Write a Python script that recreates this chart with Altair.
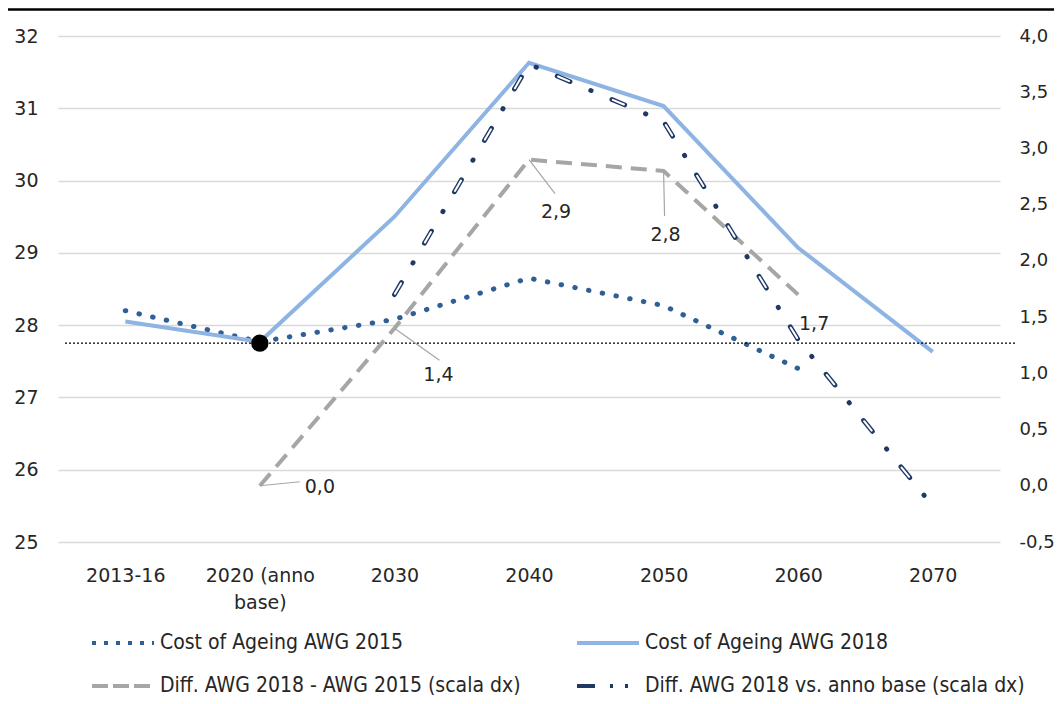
import altair as alt
import pandas as pd

# ---------------- data ----------------
cats = ["2013-16", "2020 (anno base)", "2030", "2040", "2050", "2060", "2070"]
awg2015 = [28.2, 27.77, 28.08, 28.65, 28.27, 27.4, None]
awg2018 = [28.05, 27.77, 29.5, 31.63, 31.03, 29.07, 27.63]
diff_18_15 = [None, 0.0, 1.4, 2.9, 2.8, 1.7, None]
diff_base = [None, None, 1.7, 3.75, 3.24, 1.3, -0.18]
base_level = 27.75
left_ticks = [25, 26, 27, 28, 29, 30, 31, 32]
right_ticks = [-0.5, 0.0, 0.5, 1.0, 1.5, 2.0, 2.5, 3.0, 3.5, 4.0]
series_names = [
    "Cost of Ageing AWG 2015",
    "Cost of Ageing AWG 2018",
    "Diff. AWG 2018 - AWG 2015 (scala dx)",
    "Diff. AWG 2018 vs. anno base (scala dx)",
]

# ---------------- style ----------------
C2015 = "#305F96"
C2018 = "#8EB4E3"
CGRAY = "#A6A6A6"
CNAVY = "#1F3864"
TXT = "#262626"
AXFONT = "DejaVu Sans"
LEGFONT = "Liberation Sans Narrow, Arial Narrow, DejaVu Sans Condensed"
# label offsets (pixels): text dx, dy ; leader end dx, dy (None = no leader)
label_style = {
    "2020 (anno base)": (60, 1, (40, -4)),
    "2030": (44, 47, (45, 32)),
    "2040": (27, 52, (26, 34)),
    "2050": (2, 64, (1, 45)),
    "2060": (16, 29, None),
}

df = pd.DataFrame({
    "cat": cats,
    "awg2015": awg2015,
    "awg2018": awg2018,
    "d1815": diff_18_15,
    "dbase": diff_base,
})

X = alt.X(
    "cat:N",
    scale=alt.Scale(type="point", domain=cats, padding=0.5),
    axis=alt.Axis(
        title=None, labelAngle=0, ticks=False, domain=False, grid=False,
        labelPadding=24, labelFont=AXFONT, labelFontSize=19, labelColor=TXT,
        labelBaseline="top", labelLineHeight=27, labelOverlap=False,
        labelExpr="datum.value == '2020 (anno base)' ? ['2020 (anno', 'base)'] : datum.value",
    ),
)

left_axis = alt.Axis(
    title=None, values=left_ticks, format="d", ticks=False, domain=False,
    labelPadding=20, grid=True, gridColor="#D9D9D9", gridWidth=1.3,
    labelFont=AXFONT, labelFontSize=19, labelColor=TXT,
)
right_axis = alt.Axis(
    title=None, orient="right", values=right_ticks, ticks=False, domain=False,
    labelPadding=19, grid=False, labelFont=AXFONT, labelFontSize=18, labelColor=TXT,
    labelExpr="replace(replace(format(datum.value, '.1f'), '.', ','), '\u2212', '-')",
)


def yl(field):
    return alt.Y(f"{field}:Q", scale=alt.Scale(domain=[25, 32], zero=False, nice=False), axis=left_axis)


def yr(field):
    return alt.Y(f"{field}:Q", scale=alt.Scale(domain=[-0.5, 4.0], zero=False, nice=False), axis=right_axis)


leg = alt.Legend(
    title=None, orient="none", legendX=32, legendY=574, columns=2, direction="horizontal",
    symbolType="stroke", symbolSize=3844, symbolStrokeWidth=4,
    labelFont=LEGFONT, labelFontSize=21, labelColor=TXT, labelOffset=4,
    columnPadding=48, rowPadding=0, padding=0, labelLimit=800,
)
legend_dashes = [[4, 8], [1, 0], [16, 5], [18, 15, 3, 12, 3, 60]]

# ---------------- left group ----------------
l2015 = alt.Chart(df).mark_line(color=C2015, strokeWidth=5, strokeDash=[0.5, 13.5], strokeCap="round").encode(
    x=X, y=yl("awg2015"))
l2018 = alt.Chart(df).mark_line(color=C2018, strokeWidth=4).encode(x=X, y=yl("awg2018"))

legend_df = pd.DataFrame({"serie": series_names, "cat": [cats[0]] * 4, "v": [None] * 4})
legend_layer = alt.Chart(legend_df).mark_line().encode(
    x=X, y=yl("v"),
    color=alt.Color("serie:N", scale=alt.Scale(domain=series_names, range=[C2015, C2018, CGRAY, CNAVY]), legend=leg),
    strokeDash=alt.StrokeDash("serie:N", scale=alt.Scale(domain=series_names, range=legend_dashes), legend=leg),
)

base_df = pd.DataFrame({"cat": [cats[1]], "y": [base_level]})
base_rule = alt.Chart(base_df).mark_rule(color="black", strokeWidth=1.2, strokeDash=[2, 2]).encode(
    y=yl("y"), x=alt.value(7), x2=alt.value(957))
base_dot = alt.Chart(base_df).mark_point(filled=True, color="black", size=300, opacity=1).encode(
    x=X, y=yl("y"))
top_border = alt.Chart(base_df).mark_rule(color="black", strokeWidth=2.5).encode(
    x=alt.value(-58), x2=alt.value(1010), y=alt.value(-26.5))

left_group = alt.layer(l2015, l2018, legend_layer, base_rule, base_dot, top_border)

# ---------------- right group ----------------
gray = alt.Chart(df).mark_line(color=CGRAY, strokeWidth=4, strokeDash=[16, 9]).encode(x=X, y=yr("d1815"))
navy = alt.Chart(df).mark_line(color=CNAVY, strokeWidth=4.8, strokeDash=[14, 22.5, 0.5, 22.5],
                               strokeCap="round").encode(x=X, y=yr("dbase"))
white = alt.Chart(df).mark_line(color="white", strokeWidth=2, strokeDash=[12, 47.5], strokeDashOffset=58.5,
                                strokeCap="round").encode(x=X, y=yr("dbase"))

right_layers = [gray, navy, white]
for i, c in enumerate(cats):
    v = diff_18_15[i]
    if v is None:
        continue
    dx, dy, lead = label_style[c]
    one = pd.DataFrame({"cat": [c], "v": [v], "t": [f"{v:.1f}".replace(".", ",")]})
    if lead is not None:
        right_layers.append(
            alt.Chart(one).mark_rule(color="#A6A6A6", strokeWidth=1.2, x2Offset=lead[0], y2Offset=lead[1]).encode(
                x=X, y=yr("v"), x2="cat:N", y2="v:Q"))
    right_layers.append(
        alt.Chart(one).mark_text(dx=dx, dy=dy, align="center", baseline="middle", font=AXFONT, fontSize=19,
                                 color=TXT).encode(x=X, y=yr("v"), text="t:N"))

right_group = alt.layer(*right_layers)

chart = alt.layer(left_group, right_group).resolve_scale(y="independent").properties(
    width=942, height=506,
    padding={"left": 50, "top": 28, "right": 54, "bottom": 154},
    autosize=alt.AutoSizeParams(type="none"),
).configure_view(stroke=None)

chart.save("out.html", embed_options={"renderer": "svg", "actions": False})
